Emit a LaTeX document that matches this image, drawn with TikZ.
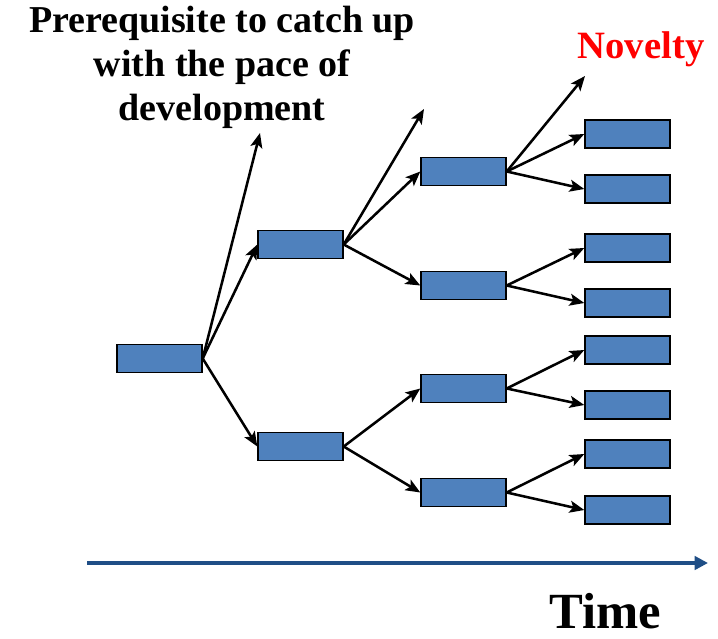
\documentclass[tikz,border=0pt]{standalone}
\usepackage{fontspec}
\setmainfont{Liberation Serif}
\usepackage{xcolor}
\usetikzlibrary{arrows.meta,positioning}
\definecolor{boxblue}{HTML}{4F81BD}
\definecolor{timeblue}{HTML}{1F4E86}

\begin{document}
\begin{tikzpicture}[
  x=0.75pt, y=-0.75pt,
  blk/.style={draw=black, line width=1.3pt, fill=boxblue, minimum width=63.5pt, minimum height=21pt, inner sep=0pt},
  arr/.style={-{Stealth[length=11pt,width=9pt,inset=2.5pt]}, line width=1.9pt},
  tarr/.style={-{Triangle[length=10pt,width=10pt]}, line width=3.2pt, timeblue},
  lbl/.style={font=\bfseries, align=center}
]
\useasboundingbox (0,0) rectangle (718,639);
% --- tree of versions ---
\node[blk] (root) at (159.5,358.5) {};
\node[blk] (up)   at (300.5,244.5) {};
\node[blk] (dn)   at (300.5,446.5) {};
\node[blk] (a1)   at (463.5,171.5) {};
\node[blk] (a2)   at (463.5,285.5) {};
\node[blk] (a3)   at (463.5,388.5) {};
\node[blk] (a4)   at (463.5,492.5) {};
\node[blk] (b1)   at (627.5,134) {};
\node[blk] (b2)   at (627.5,189) {};
\node[blk] (b3)   at (627.5,248) {};
\node[blk] (b4)   at (627.5,303) {};
\node[blk] (b5)   at (627.5,350) {};
\node[blk] (b6)   at (627.5,405) {};
\node[blk] (b7)   at (627.5,454) {};
\node[blk] (b8)   at (627.5,510) {};
% --- open ends ---
\coordinate (p0) at (260,133);
\coordinate (p1) at (424,109);
\coordinate (p2) at (585,76);
% --- branches ---
\draw[arr] (root.east) -- (up.west);
\draw[arr] (root.east) -- (dn.west);
\draw[arr] (root.east) -- (p0);
\draw[arr] (up.east) -- (a1.west);
\draw[arr] (up.east) -- (a2.west);
\draw[arr] (up.east) -- (p1);
\draw[arr] (dn.east) -- (a3.west);
\draw[arr] (dn.east) -- (a4.west);
\draw[arr] (a1.east) -- (b1.west);
\draw[arr] (a1.east) -- (b2.west);
\draw[arr] (a1.east) -- (p2);
\draw[arr] (a2.east) -- (b3.west);
\draw[arr] (a2.east) -- (b4.west);
\draw[arr] (a3.east) -- (b5.west);
\draw[arr] (a3.east) -- (b6.west);
\draw[arr] (a4.east) -- (b7.west);
\draw[arr] (a4.east) -- (b8.west);
% --- labels ---
\node[lbl, font=\bfseries\fontsize{28.5}{33}\selectfont] (pre) at (222,67) {Prerequisite to catch up\\with the pace of\\development};
\node[lbl, font=\bfseries\fontsize{29}{33}\selectfont, red] (nov) at (641,49) {Novelty};
% --- time axis ---
\coordinate (t0) at (87,563);
\coordinate (t1) at (708,563);
\draw[tarr] (t0) -- (t1);
\node[lbl, font=\bfseries\fontsize{38}{42}\selectfont] (time) at (605,611) {Time};
\end{tikzpicture}
\end{document}
